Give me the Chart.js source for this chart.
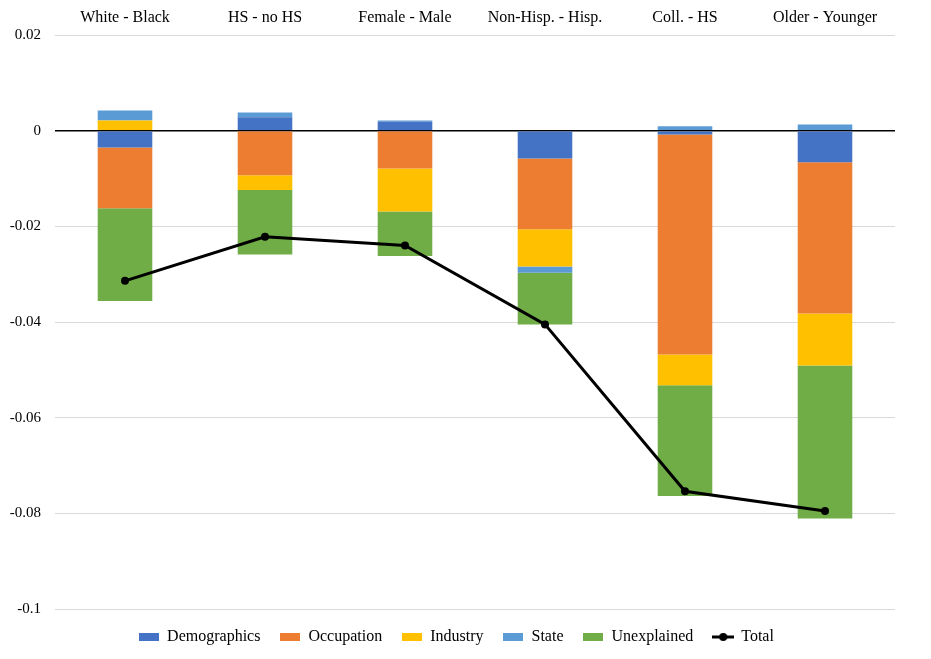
<!DOCTYPE html>
<html>
<head>
<meta charset="utf-8">
<script src="https://cdn.jsdelivr.net/npm/chart.js@4.4.1/dist/chart.umd.min.js"></script>
<style>
  html, body { margin: 0; padding: 0; background: #fff; }
  #wrap { width: 931px; height: 659px; }
</style>
</head>
<body>
<div id="wrap"><canvas id="grafico"></canvas></div>
<script>
// datos
const categories = ['White - Black', 'HS - no HS', 'Female - Male', 'Non-Hisp. - Hisp.', 'Coll. - HS', 'Older - Younger'];
const demographics = [-0.0035, 0.0028, 0.0019, -0.0058, -0.0008, -0.0066];
const occupation = [-0.0127, -0.0093, -0.0079, -0.0148, -0.0460, -0.0316];
const industry = [0.0021, -0.0031, -0.0090, -0.0078, -0.0064, -0.0109];
const state = [0.0021, 0.0010, 0.0002, -0.0013, 0.0009, 0.0013];
const unexplained = [-0.0194, -0.0135, -0.0093, -0.0108, -0.0232, -0.0320];
const total = [-0.0314, -0.0222, -0.0240, -0.0405, -0.0754, -0.0795];

const fuente = 'Liberation Serif, Times New Roman, serif';

// iconos de leyenda
function cajita(color) {
    const c = document.createElement('canvas');
    c.width = 20; c.height = 8;
    const g = c.getContext('2d');
    g.fillStyle = color;
    g.fillRect(0, 0, 20, 8);
    return c;
}
function lineaTotal() {
    const c = document.createElement('canvas');
    c.width = 22; c.height = 10;
    const g = c.getContext('2d');
    g.strokeStyle = '#000';
    g.lineWidth = 3;
    g.beginPath(); g.moveTo(0, 5); g.lineTo(22, 5); g.stroke();
    g.fillStyle = '#000';
    g.beginPath(); g.arc(11, 5, 4, 0, Math.PI * 2); g.fill();
    return c;
}

function barra(label, data, color) {
    return {
        type: 'bar',
        label: label,
        data: data,
        backgroundColor: color,
        borderWidth: 0,
        stack: 'componentes',
        order: 1,
        categoryPercentage: 1,
        barPercentage: 0.39
    };
}

// la leyenda del original esta un poco corrida a la derecha
const moverLeyenda = {
    id: 'moverLeyenda',
    afterLayout: (chart) => {
        chart.legend.left += 9;
        chart.legend.right += 9;
    }
};

const data = {
    labels: categories,
    datasets: [
        barra('Demographics', demographics, '#4472C4'),
        barra('Occupation', occupation, '#ED7D31'),
        barra('Industry', industry, '#FFC000'),
        barra('State', state, '#5B9BD5'),
        barra('Unexplained', unexplained, '#70AD47'),
        {
            type: 'line',
            label: 'Total',
            data: total,
            borderColor: '#000',
            backgroundColor: '#000',
            borderWidth: 3,
            pointRadius: 4,
            pointBackgroundColor: '#000',
            pointBorderWidth: 0,
            tension: 0,
            stack: 'total',
            order: 0
        }
    ]
};

const config = {
    type: 'bar',
    data: data,
    plugins: [moverLeyenda],
    options: {
        responsive: true,
        maintainAspectRatio: false,
        animation: false,
        layout: { padding: { top: 0, right: 36, bottom: 4, left: 0 } },
        scales: {
            x: {
                position: 'top',
                stacked: true,
                grid: { display: false, drawTicks: false },
                border: { display: false },
                ticks: {
                    color: '#000',
                    font: { family: fuente, size: 16 },
                    padding: 8,
                    maxRotation: 0
                },
                afterFit: (s) => { s.height = 35; }
            },
            y: {
                stacked: true,
                min: -0.1,
                max: 0.02,
                grid: {
                    drawTicks: false,
                    color: (ctx) => (ctx.tick && Math.abs(ctx.tick.value) < 1e-9) ? '#000' : '#d9d9d9',
                    lineWidth: (ctx) => (ctx.tick && Math.abs(ctx.tick.value) < 1e-9) ? 1.5 : 1
                },
                border: { display: false },
                ticks: {
                    stepSize: 0.02,
                    color: '#000',
                    font: { family: fuente, size: 15 },
                    padding: 14,
                    callback: (v) => String(+Number(v).toFixed(2))
                },
                afterFit: (s) => { s.width = 55; }
            }
        },
        plugins: {
            tooltip: { enabled: false },
            legend: {
                position: 'bottom',
                labels: {
                    usePointStyle: true,
                    pointStyleWidth: 20,
                    boxHeight: 8,
                    padding: 20,
                    color: '#000',
                    font: { family: fuente, size: 16 },
                    generateLabels: (chart) => chart.data.datasets.map((ds, i) => ({
                        text: ds.label,
                        fillStyle: ds.backgroundColor,
                        strokeStyle: ds.backgroundColor,
                        lineWidth: 0,
                        hidden: false,
                        datasetIndex: i,
                        fontColor: '#000',
                        pointStyle: ds.type === 'line' ? lineaTotal() : cajita(ds.backgroundColor)
                    }))
                }
            }
        }
    }
};

//generar grafica
new Chart(document.querySelector('#grafico'), config);
</script>
</body>
</html>
